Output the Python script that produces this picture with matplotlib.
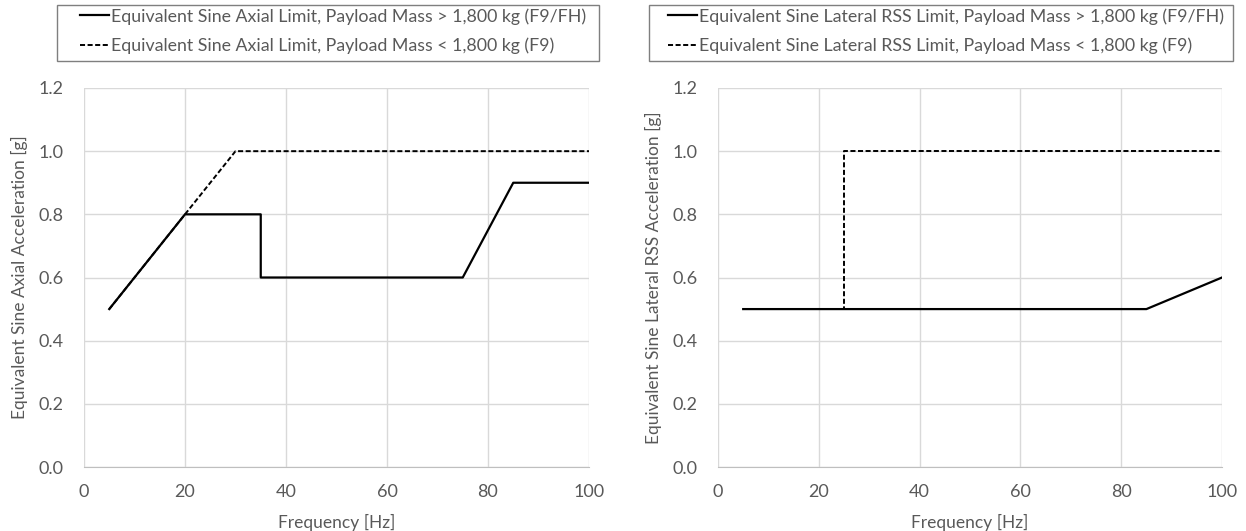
import matplotlib.pyplot as plt
from matplotlib.patches import Rectangle

plt.rcParams['font.family'] = ['Lato', 'DejaVu Sans']

# axial limits
axial_hi_freq = [5, 20, 35, 35, 75, 85, 100]
axial_hi_g = [0.5, 0.8, 0.8, 0.6, 0.6, 0.9, 0.9]
axial_lo_freq = [5, 20, 30, 100]
axial_lo_g = [0.5, 0.8, 1.0, 1.0]

# lateral RSS limits
lat_hi_freq = [5, 85, 100]
lat_hi_g = [0.5, 0.5, 0.6]
lat_lo_freq = [5, 25, 25, 100]
lat_lo_g = [0.5, 0.5, 1.0, 1.0]

x_ticks = [0, 20, 40, 60, 80, 100]
y_ticks = [0.0, 0.2, 0.4, 0.6, 0.8, 1.0, 1.2]

W, H = 1246, 531
fig = plt.figure(figsize=(W / 100, H / 100), dpi=100)
txt = '#595959'


def setup(ax, ylabel):
    ax.set_xlim(0, 100)
    ax.set_ylim(0, 1.2)
    ax.set_xticks(x_ticks)
    ax.set_yticks(y_ticks)
    ax.set_yticklabels([f"{v:.1f}" for v in y_ticks])
    ax.grid(True, color='#d9d9d9', linewidth=1)
    ax.set_axisbelow(True)
    for s in ['top', 'right', 'left']:
        ax.spines[s].set_visible(False)
    ax.spines['bottom'].set_color('#bfbfbf')
    ax.tick_params(length=0, labelsize=13, colors=txt)
    ax.tick_params(axis='y', pad=15)
    ax.tick_params(axis='x', pad=12)
    ax.set_xlabel('Frequency [Hz]', fontsize=12.5, color=txt, labelpad=10)
    ax.set_ylabel(ylabel, fontsize=12.5, color=txt, labelpad=7)


ax1 = fig.add_axes([84 / W, 1 - 467 / H, 505 / W, 379 / H])
ax1.plot(axial_hi_freq, axial_hi_g, color='black', lw=1.6,
         label='Equivalent Sine Axial Limit, Payload Mass > 1,800 kg (F9/FH)')
ax1.plot(axial_lo_freq, axial_lo_g, color='black', lw=1.4, dashes=(2.6, 1.3),
         label='Equivalent Sine Axial Limit, Payload Mass < 1,800 kg (F9)')
setup(ax1, 'Equivalent Sine Axial Acceleration [g]')

ax2 = fig.add_axes([718 / W, 1 - 467 / H, 504 / W, 379 / H])
ax2.plot(lat_hi_freq, lat_hi_g, color='black', lw=1.6,
         label='Equivalent Sine Lateral RSS Limit, Payload Mass > 1,800 kg (F9/FH)')
ax2.plot(lat_lo_freq, lat_lo_g, color='black', lw=1.4, dashes=(2.6, 1.3),
         label='Equivalent Sine Lateral RSS Limit, Payload Mass < 1,800 kg (F9)')
setup(ax2, 'Equivalent Sine Lateral RSS Acceleration [g]')

# legend boxes drawn separately, legends sit inside without frame
for ax, (bx0, bx1, hx) in [(ax1, (57, 599, 80)), (ax2, (649, 1233, 668))]:
    fig.patches.append(Rectangle((bx0 / W, 1 - 61 / H), (bx1 - bx0) / W, 56 / H,
                                 transform=fig.transFigure, fill=False,
                                 edgecolor='#7f7f7f', linewidth=1))
    leg = fig.legend(handles=ax.get_lines(), loc='upper left',
                     bbox_to_anchor=(hx / W, 1 - 8 / H),
                     fontsize=12.8, frameon=False,
                     handlelength=1.65, handletextpad=0.1, borderpad=0,
                     labelspacing=0.72, borderaxespad=0)
    for t in leg.get_texts():
        t.set_color(txt)

fig.savefig('out.png', dpi=100)
